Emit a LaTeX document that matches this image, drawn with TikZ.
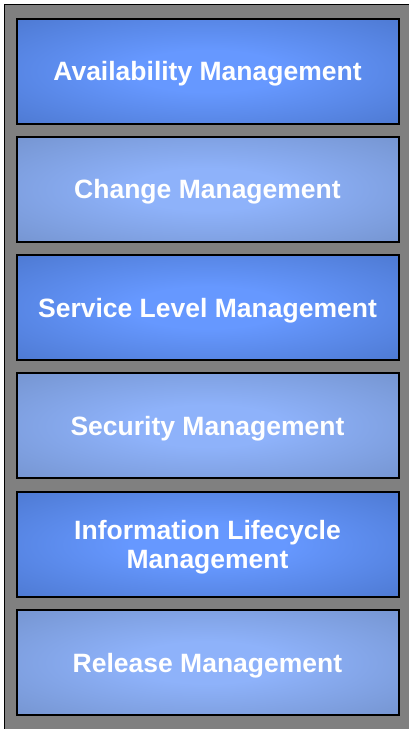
\documentclass[tikz,border=0pt]{standalone}
\usepackage{fontspec}
\setmainfont{Liberation Sans}
\usetikzlibrary{positioning}

% colours of the boxes
\definecolor{darkedge}{RGB}{70,112,196}
\definecolor{darkmid}{RGB}{102,152,255}
\definecolor{lightedge}{RGB}{110,140,196}
\definecolor{lightmid}{RGB}{142,178,250}
\definecolor{panelgrey}{RGB}{128,128,128}

\pgfdeclareradialshading{darkglow}{\pgfpointorigin}{color(0bp)=(darkmid); color(10bp)=(darkmid); color(44bp)=(darkedge); color(50bp)=(darkedge)}
\pgfdeclareradialshading{lightglow}{\pgfpointorigin}{color(0bp)=(lightmid); color(10bp)=(lightmid); color(44bp)=(lightedge); color(50bp)=(lightedge)}

\tikzset{
  procbox/.style={draw=black, line width=2pt, minimum width=382pt, minimum height=105pt,
    inner sep=0pt, align=center, text=white, text depth=0pt,
    font=\bfseries\fontsize{26.5}{29}\selectfont},
  darkbox/.style={procbox, shading=darkglow},
  lightbox/.style={procbox, shading=lightglow}
}

\begin{document}
\begin{tikzpicture}[node distance=11.3pt, x=1pt, y=1pt]
\useasboundingbox (0,0) rectangle (409,-729);
% grey panel
  \draw[fill=panelgrey, line width=1.5pt] (4.5,-4.5) rectangle (440,-760);

% define the boxes
  \node[darkbox]  (avail)   at (207.5,-71) {Availability Management};
  \node[lightbox] (change)  [below=of avail]   {Change Management};
  \node[darkbox]  (slm)     [below=of change]  {Service Level Management};
  \node[lightbox] (secur)   [below=of slm]     {Security Management};
  \node[darkbox]  (ilm)     [below=of secur]   {Information Lifecycle\\Management};
  \node[lightbox] (release) [below=of ilm]     {Release Management};

\end{tikzpicture}
\end{document}
